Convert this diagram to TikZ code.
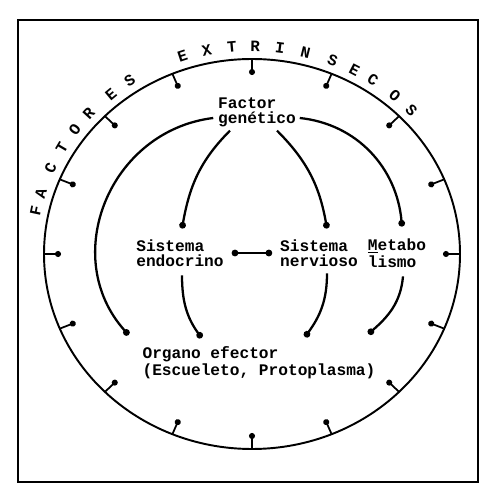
\documentclass[tikz,border=0pt]{standalone}
\usepackage{fontspec}
\setmonofont{Liberation Mono}
\usetikzlibrary{arrows.meta, positioning}
\tikzset{
  every picture/.style={font=\ttfamily\bfseries\fontsize{9.2}{8.6}\selectfont, line width=1.1pt},
  label/.style={align=left, inner sep=0pt},
  link/.style={-{Circle[length=3.8pt]}, line width=1.3pt},
  tickmark/.style={-{Circle[length=3.4pt]}, line width=1pt},
  letter/.style={inner sep=0pt, font=\ttfamily\bfseries\fontsize{9}{9}\selectfont},
}

\begin{document}
\begin{tikzpicture}[x=0.02cm, y=0.02cm]
  \useasboundingbox (0,0) rectangle (481,487);
  % frame
  \draw[line width=1.5pt] (18,5) rectangle (478,467);
  % outer ring with ticks pointing in
  \draw (252,233) ellipse [x radius=208, y radius=195];
  \foreach \a in {0,22.5,...,337.5}
    \draw[tickmark] ({252+208*cos(\a)},{233+195*sin(\a)}) -- ({252+191*cos(\a)},{233+179*sin(\a)});
  % lettering round the top
  \foreach \l/\a [count=\i] in {F/168,A/163,C/155.7,T/149.4,O/143.3,R/137.6,E/129.7,S/123.6,
      E/108.3,X/101.8,T/95.2,R/89.2,I/82.7,N/76,S/68.6,E/62.4,C/56.8,O/49.7,S/43.8}
    \node[letter, rotate=\a-90] (t\i) at ({252+221*cos(\a)},{233+208*sin(\a)}) {\l};
  % text nodes
  \node[label] (factor) at (257,375) {Factor\\genético};
  \node[label] (endo) at (180,234) {Sistema\\endocrino};
  \node[label] (nerv) at (319,234) {Sistema\\nervioso};
  \node[label] (meta) at (397,234) {\underline{M}etabo\\lismo};
  \node[label] (organo) at (259,124) {Organo efector\\(Escueleto, Protoplasma)};
  % connectors
  \draw[link] ([shift={(-4,-6)}]factor.west) to[out=187, in=132, looseness=1.15] ([shift={(-13,11)}]organo.north west);
  \draw[link] ([shift={(3,-6)}]factor.east) to[out=-6, in=95] ([shift={(5,11)}]meta.north);
  \draw[link] ([shift={(-27,-3)}]factor.south) to[out=225, in=80] ([shift={(2,10)}]endo.north);
  \draw[link] ([shift={(20,-3)}]factor.south) to[out=-45, in=100] ([shift={(8,10)}]nerv.north);
  \draw[{Circle[length=3.8pt]}-{Circle[length=3.8pt]}, line width=1.3pt] ([xshift=4]endo.east) -- ([xshift=-4]nerv.west);
  \draw[link] ([shift={(2,-8)}]endo.south) to[out=-90, in=126] ([shift={(60,8)}]organo.north west);
  \draw[link] ([shift={(8,-6)}]nerv.south) to[out=-90, in=54] ([shift={(46,9)}]organo.north);
  \draw[link] ([shift={(6,-8)}]meta.south) to[out=-95, in=41] ([shift={(-8,12)}]organo.north east);
\end{tikzpicture}
\end{document}
